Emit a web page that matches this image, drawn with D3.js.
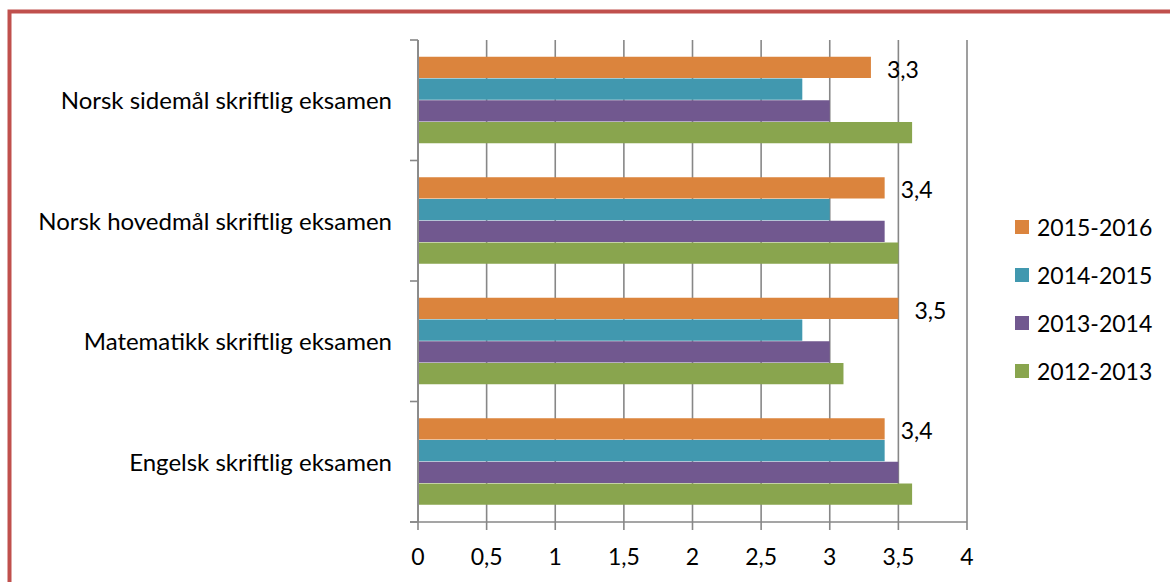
<!DOCTYPE html>
<html>
<head>
<meta charset="utf-8">
<script src="https://cdn.jsdelivr.net/npm/d3@7/dist/d3.min.js"></script>
<style>
  html, body { margin: 0; padding: 0; background: #fff; }
  svg { display: block; font-family: Lato, "Open Sans", sans-serif; }
</style>
</head>
<body>
<svg id="chart" width="1170" height="582"></svg>
<script>
// Categories bottom-to-top as in the source sheet
const categories = [
  "Engelsk skriftlig eksamen",
  "Matematikk skriftlig eksamen",
  "Norsk hovedmål skriftlig eksamen",
  "Norsk sidemål skriftlig eksamen"
];
const seriesNames = ["2012-2013", "2013-2014", "2014-2015", "2015-2016"];
const seriesColors = ["#89A54E", "#71588F", "#4198AF", "#DB843D"];

// one array per series, values follow `categories`
const values2012 = [3.6, 3.1, 3.5, 3.6];
const values2013 = [3.5, 3.0, 3.4, 3.0];
const values2014 = [3.4, 2.8, 3.0, 2.8];
const values2015 = [3.4, 3.5, 3.4, 3.3];
const seriesValues = [values2012, values2013, values2014, values2015];

const xTicks = [0, 0.5, 1, 1.5, 2, 2.5, 3, 3.5, 4];
const labelledSeries = "2015-2016";

const svg = d3.select("#chart");
const gridColor = "#878787";

// frame (only top and left edges are visible in the original)
svg.append("rect")
  .attr("x", 9.5).attr("y", 11.5)
  .attr("width", 1200).attr("height", 700)
  .attr("fill", "none")
  .attr("stroke", "#C0504D")
  .attr("stroke-width", 4);

const plot = { left: 418, right: 967, top: 40, bottom: 522 };

const x = d3.scaleLinear().domain([0, 4]).range([plot.left, plot.right]);

// top of chart is the last category, like Excel does it
const y0 = d3.scaleBand()
  .domain(categories.slice().reverse())
  .range([plot.top, plot.bottom]);

// top bar in each group is the last series
const y1 = d3.scaleBand()
  .domain(seriesNames.slice().reverse())
  .range([0, y0.bandwidth()])
  .paddingInner(0)
  .paddingOuter(0.77);

// vertical gridlines + ticks below the axis
const grid = svg.append("g");
xTicks.forEach((t) => {
  grid.append("line")
    .attr("x1", x(t)).attr("x2", x(t))
    .attr("y1", plot.top)
    .attr("y2", plot.bottom + 8)
    .attr("stroke", gridColor)
    .attr("stroke-width", 1.6);
});

// bars
const rows = [];
categories.forEach((c, ci) => {
  seriesNames.forEach((s, si) => {
    rows.push({ cat: c, series: s, value: seriesValues[si][ci], color: seriesColors[si] });
  });
});

svg.append("g")
  .selectAll("rect")
  .data(rows)
  .join("rect")
  .attr("x", x(0) + 1)
  .attr("y", (d) => y0(d.cat) + y1(d.series))
  .attr("width", (d) => x(d.value) - x(0) - 1)
  .attr("height", y1.bandwidth() - 0.5)
  .attr("fill", (d) => d.color);

// data labels for latest year only
const fmt = (v) => d3.format(".1f")(v).replace(".", ",");
svg.append("g")
  .selectAll("text")
  .data(rows.filter((d) => d.series === labelledSeries))
  .join("text")
  .attr("x", (d) => x(d.value) + 16)
  .attr("y", (d) => y0(d.cat) + y1(d.series) + y1.bandwidth() / 2 + 10)
  .attr("font-size", 23)
  .attr("fill", "#000")
  .text((d) => fmt(d.value));

// axes lines
const axes = svg.append("g").attr("stroke", gridColor).attr("stroke-width", 1.6);
axes.append("line")
  .attr("x1", x(0)).attr("x2", x(0))
  .attr("y1", plot.top).attr("y2", plot.bottom);
axes.append("line")
  .attr("x1", x(0) - 8).attr("x2", x(4))
  .attr("y1", plot.bottom).attr("y2", plot.bottom);
// category boundary ticks
const bounds = y0.domain().map((c) => y0(c)).concat([plot.bottom]);
bounds.forEach((b) => {
  axes.append("line")
    .attr("x1", x(0) - 8).attr("x2", x(0))
    .attr("y1", b).attr("y2", b);
});

// x tick labels
svg.append("g")
  .selectAll("text")
  .data(xTicks)
  .join("text")
  .attr("x", (d) => x(d))
  .attr("y", 565)
  .attr("text-anchor", "middle")
  .attr("font-size", 23)
  .text((d) => fmt(d).replace(",0", ""));

// category labels
svg.append("g")
  .selectAll("text")
  .data(categories)
  .join("text")
  .attr("x", 392)
  .attr("y", (d) => y0(d) + y0.bandwidth() / 2 + 9)
  .attr("text-anchor", "end")
  .attr("font-size", 24)
  .text((d) => d);

// legend, newest first
const legend = svg.append("g");
seriesNames.slice().reverse().forEach((s, i) => {
  const base = 236 + i * 48;
  legend.append("rect")
    .attr("x", 1015).attr("y", base - 16)
    .attr("width", 14).attr("height", 14)
    .attr("fill", seriesColors[seriesNames.indexOf(s)]);
  legend.append("text")
    .attr("x", 1037).attr("y", base)
    .attr("font-size", 23)
    .text(s);
});
</script>
</body>
</html>
